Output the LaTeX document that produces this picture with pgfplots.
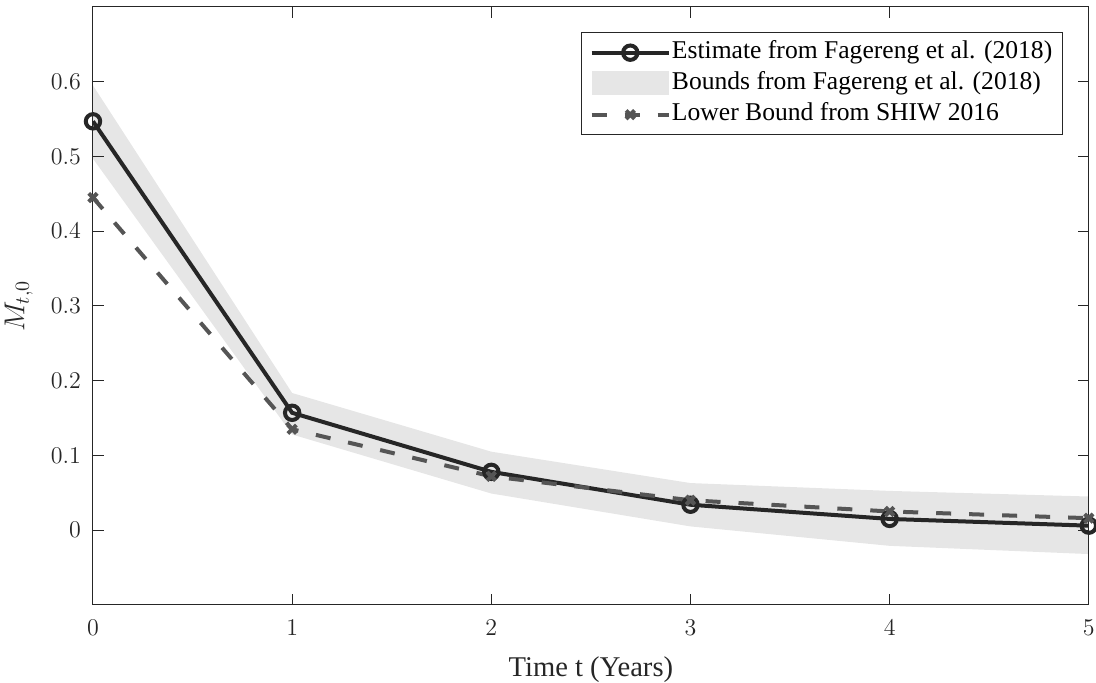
\documentclass[border=0pt]{standalone}
\usepackage{pgfplots}
\pgfplotsset{compat=1.18}
\usepackage{fontspec}
\setmainfont{Liberation Serif}
\definecolor{axc}{HTML}{262626}
\definecolor{estc}{HTML}{262626}
\definecolor{shiwc}{HTML}{555555}
\definecolor{bandc}{HTML}{E6E6E6}
\newcommand{\lgd}[1]{\makebox[191pt][l]{#1}}
\begin{document}
\begin{tikzpicture}
\begin{axis}[
  name=ax,
  set layers,
  scale only axis,
  width=498pt, height=299pt,
  xmin=0, xmax=5, ymin=-0.1, ymax=0.7,
  xtick={0,1,2,3,4,5},
  ytick={0,0.1,0.2,0.3,0.4,0.5,0.6},
  yticklabel style={/pgf/number format/fixed, inner sep=0pt, xshift=-5.8pt},
  tick align=inside,
  major tick length=5.4pt,
  axis line style={axc, line width=0.5pt},
  tick style={axc, line width=0.5pt},
  ticklabel style={font=\fontsize{12.6}{14}\selectfont, text=axc},
  xticklabel style={inner sep=0pt, yshift=-7.5pt},
  xlabel={Time t (Years)},
  ylabel={$M_{t,0}$},
  xlabel style={font=\fontsize{14.3}{15}\selectfont, text=axc,
    at={(axis description cs:0.5,0)}, anchor=south, inner sep=0pt, yshift=-39pt},
  ylabel style={font=\fontsize{13.8}{15}\selectfont, text=axc,
    at={(axis description cs:-0.0602,0.5)}, anchor=south, inner sep=0pt},
  legend cell align=left,
  legend style={at={(rel axis cs:0.9739,0.958)}, anchor=north east,
    draw=axc, line width=0.5pt, font=\fontsize{12.8}{14}\selectfont,
    inner xsep=4.2pt, inner ysep=2.3pt, row sep=0pt,
    nodes={inner sep=0pt, text height=10.5pt, text depth=5pt},
    /tikz/every odd column/.style={column sep=0.5pt},
    /tikz/every even column/.style={column sep=0pt}},
]
\addplot[color=estc, line width=2pt, mark=o, mark size=3.6pt,
  mark options={solid, line width=2pt},
  legend image code/.code={\draw[mark repeat=2,mark phase=2] plot coordinates {(0cm,0cm)(0.68cm,0cm)(1.36cm,0cm)};}]
coordinates {(0,0.547)(1,0.157)(2,0.078)(3,0.034)(4,0.015)(5,0.006)};
\addlegendentry{\lgd{Estimate from Fagereng et al. (2018)}}
\addplot[on layer=axis background, fill=bandc, draw=none,
  legend image code/.code={\fill[bandc] (0cm,-0.2cm) rectangle (1.36cm,0.22cm);}]
coordinates {(0,0.595)(1,0.1835)(2,0.105)(3,0.063)(4,0.0525)(5,0.045)
  (5,-0.032)(4,-0.021)(3,0.005)(2,0.049)(1,0.128)(0,0.497)} -- cycle;
\addlegendentry{\lgd{Bounds from Fagereng et al. (2018)}}
\addplot[color=shiwc, line width=2pt, dash pattern=on 7.5pt off 9pt, mark=x, mark size=3pt,
  mark options={solid, line width=2pt},
  legend image code/.code={\draw[mark repeat=2,mark phase=2] plot coordinates {(0cm,0cm)(0.68cm,0cm)(1.36cm,0cm)};}]
coordinates {(0,0.445)(1,0.135)(2,0.072)(3,0.040)(4,0.025)(5,0.016)};
\addlegendentry{\lgd{Lower Bound from SHIW 2016}}
\end{axis}
\path ([yshift=3.5pt]ax.north) -- ([yshift=3.5pt]ax.north);
\path ([xshift=-46.5pt]ax.west) -- ([xshift=3.5pt]ax.east);
\end{tikzpicture}
\end{document}
